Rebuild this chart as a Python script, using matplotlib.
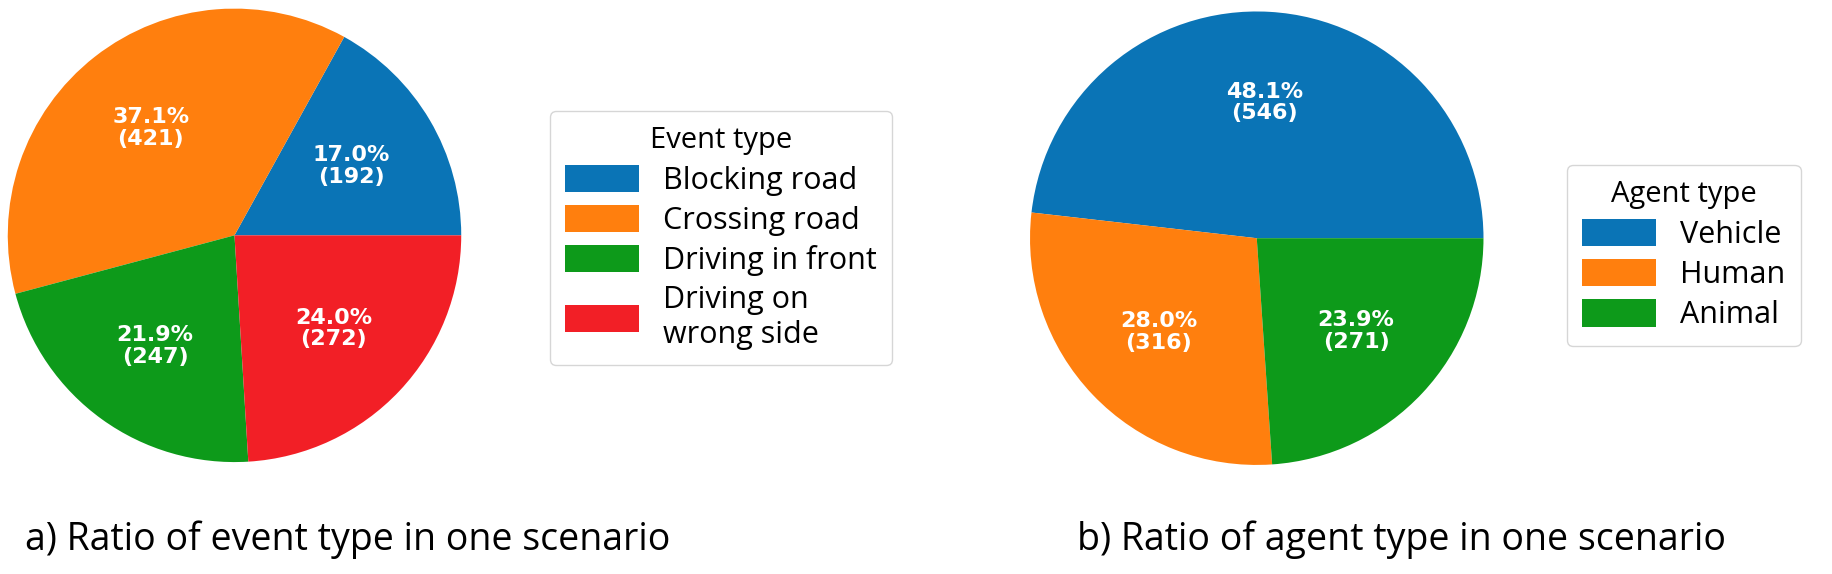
import matplotlib.pyplot as plt
import numpy as np

event_labels = ["Blocking road", "Crossing road", "Driving in front", "Driving on\nwrong side"]
event_pct = [17.0, 37.1, 21.9, 24.0]
event_cnt = [192, 421, 247, 272]
event_colors = ["#0a74b6", "#ff7f0e", "#0d9a1a", "#f21f26"]

agent_labels = ["Vehicle", "Human", "Animal"]
agent_pct = [48.1, 28.0, 23.9]
agent_cnt = [546, 316, 271]
agent_colors = ["#0a74b6", "#ff7f0e", "#0d9a1a"]

plt.rcParams['font.family'] = ['Open Sans', 'DejaVu Sans']

fig = plt.figure(figsize=(18.32, 5.74), dpi=100)


def draw_pie(rect, pct, cnt, colors, labels, title, leg_anchor):
    ax = fig.add_axes(rect)
    wedges, _ = ax.pie(cnt, colors=colors, startangle=0, counterclock=True)
    total = sum(cnt)
    angle = 0
    for p, c in zip(pct, cnt):
        mid = np.deg2rad(angle + 360 * c / total / 2)
        angle += 360 * c / total
        ax.text(0.6 * np.cos(mid), 0.6 * np.sin(mid), "%.1f%%\n(%d)" % (p, c),
                ha='center', va='center', color='white', fontsize=16,
                fontweight='bold', family='DejaVu Sans', linespacing=1.1)
    ax.set_xlim(-1.01, 1.01)
    ax.set_ylim(-1.01, 1.01)
    ax.set_aspect('equal')
    fig.legend(wedges, labels, title=title, loc='center left',
               bbox_to_anchor=leg_anchor, fontsize=22, title_fontsize=21,
               handlelength=2.4, handleheight=1.0, labelspacing=0.3,
               edgecolor='#cccccc', fancybox=True, borderpad=0.5)


draw_pie([0.003, 0.19, 0.25, 0.8], event_pct, event_cnt, event_colors,
         event_labels, "Event type", (0.292, 0.585))
draw_pie([0.561, 0.185, 0.25, 0.8], agent_pct, agent_cnt, agent_colors,
         agent_labels, "Agent type", (0.847, 0.555))

fig.text(0.19, 0.06, "a) Ratio of event type in one scenario", ha='center', va='center', fontsize=27)
fig.text(0.765, 0.06, "b) Ratio of agent type in one scenario", ha='center', va='center', fontsize=27)

fig.savefig("out.png", dpi=100)
